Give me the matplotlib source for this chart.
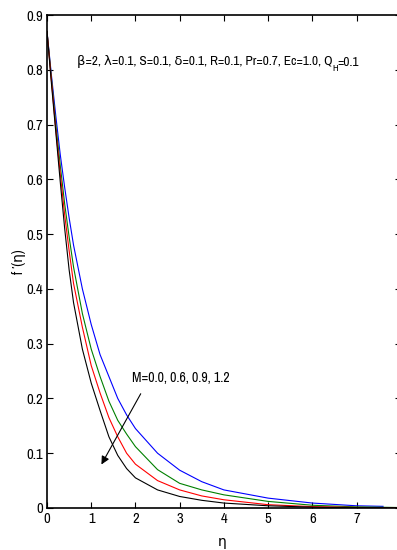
import matplotlib
matplotlib.use("Agg")
import matplotlib.pyplot as plt
from matplotlib import font_manager

eta = [0, 0.1, 0.2, 0.3, 0.4, 0.5, 0.6, 0.8, 1.0, 1.2, 1.4, 1.6, 1.8, 2.0,
       2.5, 3.0, 3.5, 4.0, 5.0, 6.0, 7.0, 8.0]

# f'(eta) for M = 0.0 (blue), 0.6 (green), 0.9 (red), 1.2 (black)
f_m00 = [0.87, 0.79, 0.715, 0.645, 0.585, 0.53, 0.48, 0.40, 0.335, 0.28, 0.24,
         0.20, 0.17, 0.145, 0.10, 0.069, 0.048, 0.033, 0.018, 0.009, 0.004, 0.003]
f_m06 = [0.87, 0.785, 0.70, 0.625, 0.555, 0.495, 0.44, 0.355, 0.29, 0.24, 0.195,
         0.16, 0.135, 0.112, 0.07, 0.045, 0.033, 0.024, 0.012, 0.005, 0.002, 0.0008]
f_m09 = [0.87, 0.78, 0.69, 0.61, 0.535, 0.47, 0.41, 0.33, 0.26, 0.21, 0.165,
         0.13, 0.10, 0.08, 0.05, 0.033, 0.022, 0.015, 0.006, 0.0025, 0.001, 0.0003]
f_m12 = [0.87, 0.775, 0.685, 0.595, 0.51, 0.435, 0.375, 0.29, 0.228, 0.178, 0.13,
         0.096, 0.072, 0.055, 0.033, 0.021, 0.014, 0.009, 0.004, 0.0015, 0.0005, 0.0]

series = [(f_m00, 'blue'), (f_m06, 'green'), (f_m09, 'red'), (f_m12, 'black')]

# prefer a condensed face, the original looks like a narrow Helvetica
names = sorted({f.name for f in font_manager.fontManager.ttflist})
narrow = [n for n in names if 'Narrow' in n or 'Condensed' in n]
fam = narrow[0] if narrow else 'Liberation Sans'
plt.rcParams['font.family'] = [fam, 'DejaVu Sans']

fig = plt.figure(figsize=(3.97, 5.5), dpi=100)
ax = fig.add_axes([0.1184, 0.0764, 0.891, 0.8963])

for vals, col in series:
    x = eta[:len(vals)]
    if col == 'blue':
        x = eta[:-1] + [7.6]
    ax.plot(x, vals, color=col, lw=0.8)

ax.set_xlim(0, 8)
ax.set_ylim(0, 0.9)
ax.set_xticks(range(8))
ax.set_yticks([i / 10 for i in range(10)])
ax.set_yticklabels(['0'] + ['%.1f' % (i / 10) for i in range(1, 10)])
ax.tick_params(direction='in', top=True, right=True, labelsize=10.5, length=4,
               width=0.8, pad=3)
for s in ax.spines.values():
    s.set_linewidth(1.2)

ax.set_xlabel('\u03b7', fontsize=10)
ax.xaxis.set_label_coords(0.495, -0.055)
ax.set_ylabel('f \u2032(\u03b7)', fontsize=10)
ax.yaxis.set_label_coords(-0.058, 0.5)

# parameter line, with the H of Q_H as a hand-made subscript
t1 = ax.text(0.084, 0.905, '\u03b2=2, \u03bb=0.1, S=0.1, \u03b4=0.1, R=0.1, Pr=0.7, Ec=1.0, Q',
             transform=ax.transAxes, fontsize=9.5, ha='left', va='center')
t2 = ax.annotate('H', xy=(1, 0.3), xycoords=t1, fontsize=7, ha='left', va='top')
ax.annotate('=0.1', xy=(1, 0), xycoords=(t2, t1), fontsize=9.5, ha='left', va='bottom')

ax.text(1.93, 0.237, 'M=0.0, 0.6, 0.9, 1.2', fontsize=10, ha='left', va='center')
ax.annotate('', xy=(1.2, 0.075), xytext=(2.15, 0.213),
            arrowprops=dict(arrowstyle='-|>', color='black', lw=0.8, mutation_scale=12))

fig.savefig('out.png', dpi=100)
